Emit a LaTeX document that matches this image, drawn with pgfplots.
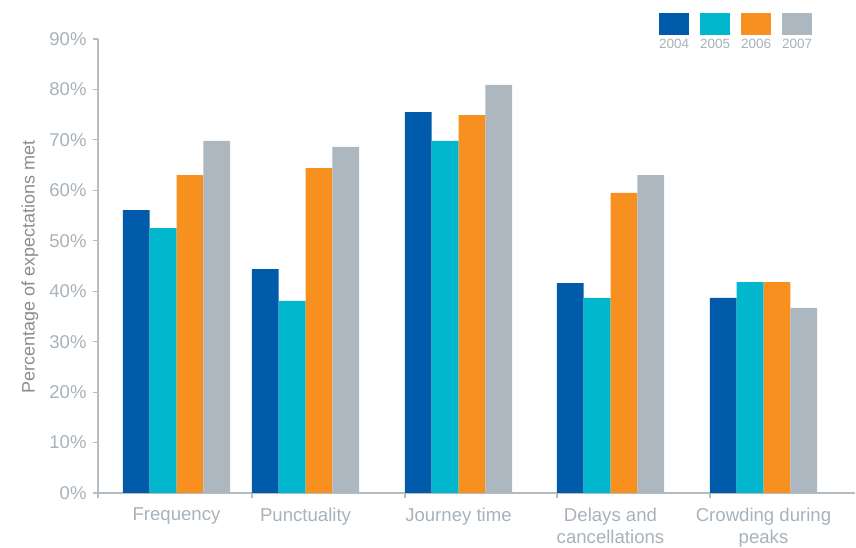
\documentclass[border=0pt]{standalone}
\usepackage{fontspec}
\setmainfont{Liberation Sans}
\usepackage{pgfplots}
\pgfplotsset{compat=1.18}

\definecolor{c2004}{HTML}{005BAA}
\definecolor{c2005}{HTML}{00B7CE}
\definecolor{c2006}{HTML}{F7901E}
\definecolor{c2007}{HTML}{ACB7BF}
\definecolor{axisgray}{HTML}{B2BCC2}
\definecolor{labelgray}{HTML}{A8B2BA}
\definecolor{titlegray}{HTML}{868E94}

% legend swatch drawn above its year label
\pgfplotsset{
  legsq/.style={legend image code/.code={\fill[#1,overlay] (0pt,10pt) rectangle (30pt,32pt);}},
}

\begin{document}
\begin{tikzpicture}
\path[use as bounding box] (0,0) rectangle (856pt,548pt);
\begin{axis}[
  at={(98pt,55pt)}, anchor=south west,
  scale only axis, width=757pt, height=454pt,
  xmin=98, xmax=855, ymin=0, ymax=90,
  ybar, bar width=26.8,
  axis x line=bottom, axis y line=left,
  x axis line style={-, draw=axisgray, line width=1.2pt},
  y axis line style={-, draw=axisgray, line width=1.2pt},
  tick align=outside, major tick length=5pt,
  tick style={draw=axisgray, line width=1.2pt},
  xtick={98,252,405,557,710},
  xticklabels={},
  extra x ticks={176.5,305.5,458.5,610.5,763.5},
  extra x tick labels={Frequency,Punctuality,Journey time,{Delays and\\cancellations},{Crowding during\\peaks}},
  extra x tick style={major tick length=0pt,
    tick label style={font=\fontsize{18.6}{22}\selectfont, text=labelgray, align=center, yshift=-11pt}},
  ytick={0,10,...,90},
  yticklabels={0\%,10\%,20\%,30\%,40\%,50\%,60\%,70\%,80\%,90\%},
  yticklabel style={font=\fontsize{18.5}{20}\selectfont, text=labelgray, xshift=-3pt},
  ylabel={Percentage of expectations met},
  every axis y label/.style={at={(axis description cs:-0.0898,0.498)}, rotate=90, anchor=center,
    font=\fontsize{18}{22}\selectfont, text=titlegray},
  legend columns=4,
  legend style={draw=none, fill=none, inner sep=0pt, outer sep=0pt,
    at={(axis description cs:0.7411,0.9868)}, anchor=west,
    font=\fontsize{13.5}{16}\selectfont, text=labelgray,
    nodes={inner sep=0pt, outer sep=0pt},
    /tikz/every odd column/.style={column sep=0pt},
    /tikz/every even column/.style={column sep=11pt}},
  legend cell align=left,
]
\addplot[fill=c2004, draw=none, bar shift=-40.2, legsq=c2004] coordinates
  {(176.5,56.1) (305.5,44.4) (458.5,75.5) (610.5,41.6) (763.5,38.7)};
\addplot[fill=c2005, draw=none, bar shift=-13.4, legsq=c2005] coordinates
  {(176.5,52.5) (305.5,38.1) (458.5,69.8) (610.5,38.7) (763.5,41.8)};
\addplot[fill=c2006, draw=none, bar shift=13.4, legsq=c2006] coordinates
  {(176.5,63.0) (305.5,64.4) (458.5,74.9) (610.5,59.5) (763.5,41.8)};
\addplot[fill=c2007, draw=none, bar shift=40.2, legsq=c2007] coordinates
  {(176.5,69.8) (305.5,68.6) (458.5,80.9) (610.5,63.0) (763.5,36.7)};
\legend{2004,2005,2006,2007}
\end{axis}
\end{tikzpicture}
\end{document}
